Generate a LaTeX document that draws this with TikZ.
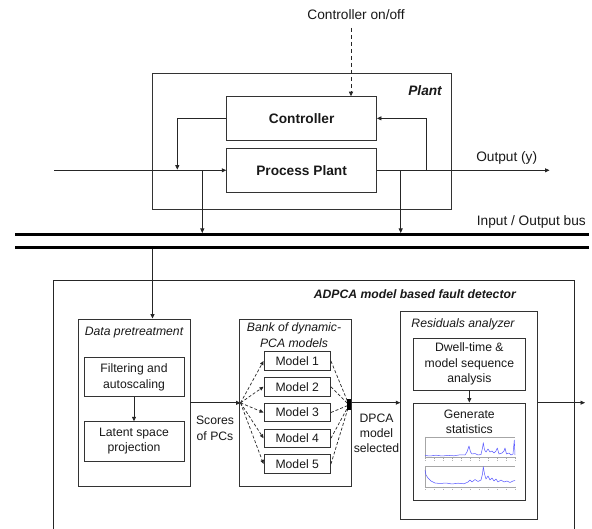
\documentclass[tikz,border=0pt]{standalone}
\usepackage{fontspec}
\setmainfont{Liberation Sans}
\usetikzlibrary{arrows.meta}
\newcommand\myBig{\fontsize{13.7}{16}\selectfont}
\newcommand\mySmall{\fontsize{12.2}{15.3}\selectfont}
\begin{document}
\begin{tikzpicture}[x=1pt,y=-1pt,
  ln/.style={draw=black!85, line width=0.8pt},
  arr/.style={ln, -{Triangle[length=4.5pt,width=4pt]}},
  darr/.style={ln, line width=0.7pt, dash pattern=on 3pt off 2pt, -{Triangle[length=4pt,width=3.5pt]}},
  box/.style 2 args={draw=black!80, line width=0.9pt, minimum width=#1, minimum height=#2, inner sep=0pt, text=black!90},
  tb/.style={font=\myBig, text=black!90, inner sep=0pt},
  ts/.style={font=\mySmall, text=black!90, inner sep=0pt, align=center},
  plotax/.style={draw=black!35, line width=0.4pt},
  trace/.style={draw=blue!65, line width=0.5pt, line join=round}
]
\useasboundingbox (0,0) rectangle (592,529);
\fill[white] (0,0) rectangle (592,529);

% ---------- Plant ----------
\node[box={298.5pt}{136pt}] (plant) at (301.75,141.3) {};
\node[tb, anchor=east, font=\myBig\bfseries\itshape] (plantlbl) at (442,90.7) {Plant};
\node[box={149.8pt}{43.3pt}, font=\myBig\bfseries] (ctl) at (301.6,118.35) {Controller};
\node[box={149.8pt}{44pt}, font=\myBig\bfseries] (pp) at (301.6,170.3) {Process Plant};

\node[tb] (onoff) at (356,14.5) {Controller on/off};
\coordinate (cs) at (351,28);
\draw[arr, dash pattern=on 4pt off 3pt] (cs) -- (cs |- ctl.north);

\coordinate (in) at (54,170.3);
\coordinate (out) at (549.5,170.3);
\draw[arr] (in) -- (pp.west);
\draw[arr] (pp.east) -- (out);
\node[tb] (outlbl) at (506.7,158.3) {Output (y)};

\coordinate (fbl) at (177.3,169.6);
\draw[arr] (ctl.west) -| (fbl);
\coordinate (fbr) at (426,170.3);
\draw[arr] (fbr) |- (ctl.east);

\coordinate (ti) at (202.3,170.3);
\coordinate (tib) at (202.3,233);
\draw[arr] (ti) -- (tib);
\coordinate (to) at (400.7,170.3);
\coordinate (tob) at (400.7,233);
\draw[arr] (to) -- (tob);

% ---------- Bus ----------
\coordinate (b1l) at (15,234.5);
\coordinate (b1r) at (589,234.5);
\coordinate (b2l) at (15,248);
\coordinate (b2r) at (589,248);
\draw[line width=3pt, black] (b1l) -- (b1r);
\draw[line width=3pt, black] (b2l) -- (b2r);
\node[tb] (buslbl) at (531.3,221.7) {Input / Output bus};

% ---------- ADPCA ----------
\coordinate (a1) at (53,540);
\coordinate (a2) at (53,280.5);
\coordinate (a3) at (574.5,280.5);
\coordinate (a4) at (574.5,540);
\draw[ln, line width=0.9pt] (a1) -- (a2) -- (a3) -- (a4);
\node[ts, anchor=east, font=\mySmall\bfseries\itshape] (adlbl) at (516,294) {ADPCA model based fault detector};

% Data pretreatment
\node[box={112pt}{167.7pt}] (dp) at (134,402.85) {};
\node[ts, font=\mySmall\itshape] (dplbl) at (134,332.7) {Data pretreatment};
\node[box={100pt}{39pt}, ts] (filt) at (134,377.2) {Filtering and\\autoscaling};
\node[box={100pt}{39.3pt}, ts] (lat) at (134,441.35) {Latent space\\projection};
\draw[arr] (filt) -- (lat);

\coordinate (d0) at (152.5,249.5);
\draw[arr] (d0) -- (d0 |- dp.north);

% Scores
\coordinate (j1) at (240.5,402.85);
\draw[arr] (dp.east) -- (j1);
\node[ts, font=\fontsize{12.2}{16.7}\selectfont] (scores) at (215,428.3) {Scores\\of PCs};

% Bank
\node[box={111.5pt}{167.7pt}] (bank) at (295.25,402.85) {};
\node[ts, font=\fontsize{12.2}{16}\selectfont\itshape] (banklbl) at (294,335) {Bank of dynamic-\\PCA models};
\foreach \i/\y in {1/361,2/386.75,3/412.5,4/438.25,5/464}{
  \node[box={66.5pt}{18.5pt}, ts] (m\i) at (297.25,\y) {Model \i};
}
\coordinate (j2) at (349,405);
\foreach \i in {1,...,5}{
  \draw[darr] (j1) -- (m\i.west);
  \draw[ln, line width=0.7pt, dash pattern=on 3pt off 2pt] (m\i.east) -- (j2);
}
\fill[black] (346.5,399) rectangle (351,410);

\coordinate (j3) at (351,402.7);
\node[box={136.8pt}{207.3pt}] (res) at (469.1,415.35) {};
\draw[arr] (j3) -- (j3 -| res.west);
\node[ts, font=\fontsize{12.2}{15}\selectfont] (dpcalbl) at (376.5,433) {DPCA\\model\\selected};

% Residuals analyzer
\node[ts, font=\mySmall\itshape] (reslbl) at (463,324) {Residuals analyzer};
\node[box={112.7pt}{52pt}, ts, font=\fontsize{12.2}{15.5}\selectfont] (dwell) at (469.35,364) {Dwell-time \&\\model sequence\\analysis};
\node[box={112.7pt}{97pt}] (gen) at (469.35,451.5) {};
\node[ts, font=\fontsize{12.2}{15}\selectfont] (genlbl) at (469.35,421.5) {Generate\\statistics};
\draw[arr] (dwell) -- (gen);

\coordinate (fo) at (585,402.7);
\draw[arr] (res.east |- fo) -- (fo);

% plots
\foreach \top/\bot in {436.7/457.3, 466/486.7}{
  \draw[plotax] (425,\top) -- (515,\top);
  \draw[plotax] (425,\bot) -- (515,\bot);
  \draw[plotax] (425,\top) -- (425,\bot);
  \foreach \k in {0,...,10}{
    \draw[draw=black!35, line width=0.3pt] (425+9*\k,\bot) -- (425+9*\k,\bot+1.5);
    \fill[black!30] (424.5+9*\k,\bot+2.5) rectangle (426+9*\k,\bot+3.3);
  }
}
\draw[trace] (425,455.5) -- (430,456) -- (436,455.2) -- (442,456) -- (448,455.4) -- (454,455.8) -- (460,454.8) -- (465,455) -- (467,452) -- (469,446) -- (470.5,452) -- (472,454) -- (475,453.5) -- (478,455) -- (481,454.5) -- (482.5,448) -- (483.3,442.7) -- (484.5,450) -- (486,452) -- (488,449) -- (490,452) -- (492,451) -- (494,453) -- (496,451) -- (497.3,448) -- (499,454) -- (502,453) -- (504,451) -- (505,448) -- (506.5,454) -- (509,453) -- (511,455) -- (513,454) -- (514.3,440) -- (515,455);
\draw[trace] (425,470) -- (426,475) -- (428,478) -- (431,481) -- (435,483) -- (440,483.5) -- (446,483) -- (452,484) -- (458,483.2) -- (464,483.8) -- (468,482) -- (470,480) -- (472,482) -- (475,479.5) -- (478,481.5) -- (481,480) -- (482.5,474) -- (483.3,466.7) -- (484.5,474) -- (486,479) -- (488,476) -- (490,480) -- (492,478) -- (494,481) -- (496,479) -- (498,482) -- (501,480) -- (504,482) -- (507,481) -- (510,482.5) -- (513,481) -- (515,480.5);
\end{tikzpicture}
\end{document}
